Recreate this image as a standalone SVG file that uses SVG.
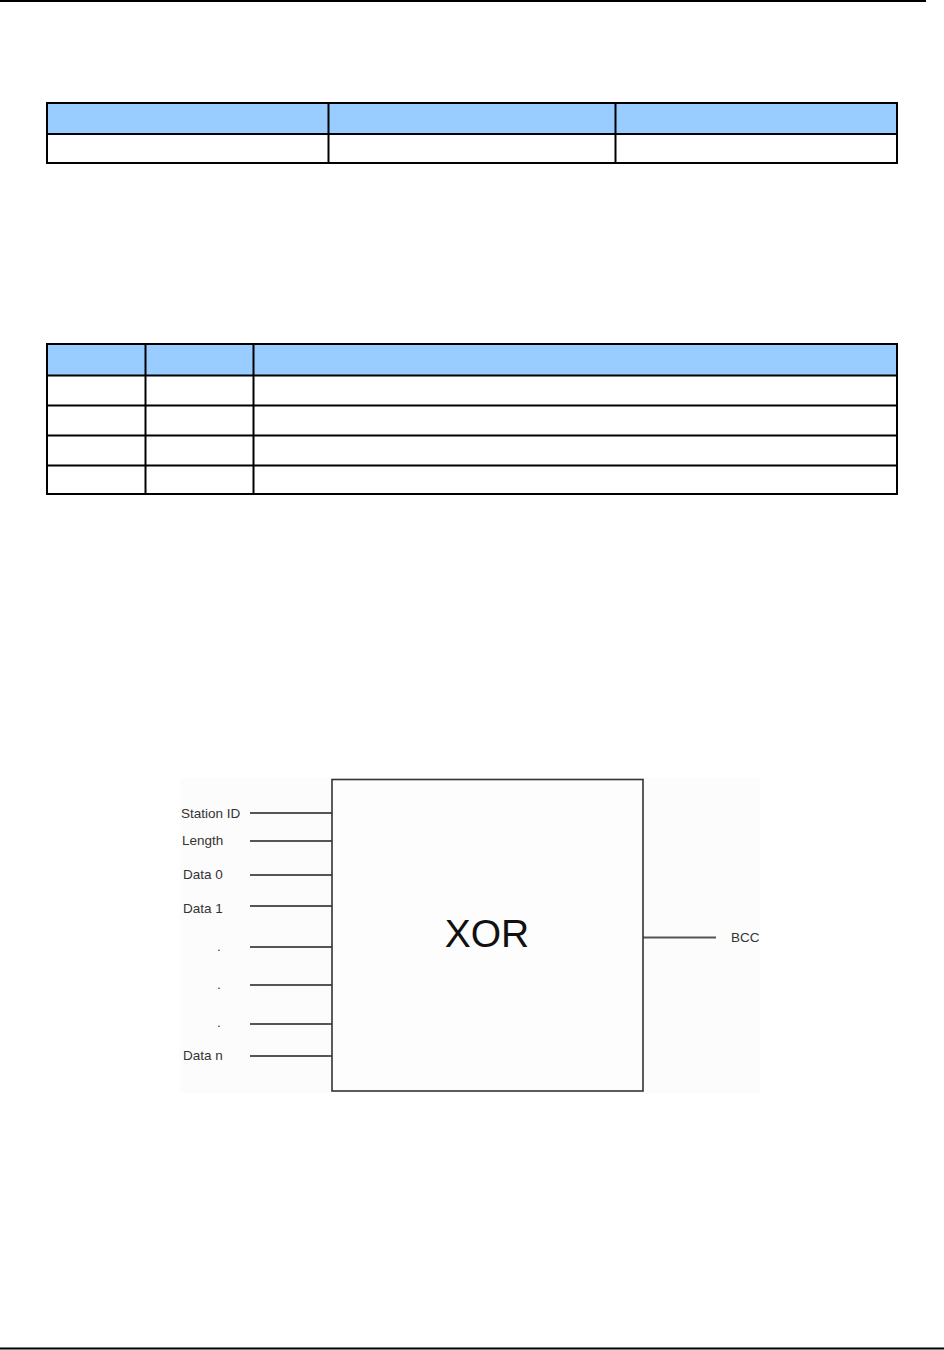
<svg xmlns="http://www.w3.org/2000/svg" width="944" height="1350" viewBox="0 0 944 1350">
<style>
.hdr{fill:#99ccff;stroke:none}
.grid{stroke:#000;stroke-width:2;fill:none}
.wire{stroke:#555;stroke-width:2}
.lbl{font-family:"Liberation Sans",Arial,sans-serif;font-size:13.5px;fill:#333}
</style>
<rect width="944" height="1350" fill="#fff"/>
<line x1="0" y1="1" x2="926" y2="1" stroke="#000" stroke-width="2"/>
<line x1="0" y1="1348.5" x2="944" y2="1348.5" stroke="#000" stroke-width="2"/>
<g id="table1">
<rect class="hdr" x="47" y="103" width="850" height="31"/>
<rect class="grid" x="47" y="103" width="850" height="60"/>
<line class="grid" x1="47" y1="134" x2="897" y2="134"/>
<line class="grid" x1="328.5" y1="103" x2="328.5" y2="163"/>
<line class="grid" x1="615.5" y1="103" x2="615.5" y2="163"/>
</g>
<g id="table2">
<rect class="hdr" x="47" y="344" width="850" height="31"/>
<rect class="grid" x="47" y="344" width="850" height="150"/>
<line class="grid" x1="47" y1="375.5" x2="897" y2="375.5"/>
<line class="grid" x1="47" y1="405.5" x2="897" y2="405.5"/>
<line class="grid" x1="47" y1="435.5" x2="897" y2="435.5"/>
<line class="grid" x1="47" y1="465.5" x2="897" y2="465.5"/>
<line class="grid" x1="145.5" y1="344" x2="145.5" y2="494"/>
<line class="grid" x1="253.5" y1="344" x2="253.5" y2="494"/>
</g>
<rect x="180" y="778" width="580" height="315" fill="#fcfcfc"/>
<g id="connectors">
<line class="wire" x1="250" y1="813" x2="332" y2="813"/>
<line class="wire" x1="250" y1="841" x2="332" y2="841"/>
<line class="wire" x1="250" y1="875" x2="332" y2="875"/>
<line class="wire" x1="250" y1="906" x2="332" y2="906"/>
<line class="wire" x1="250" y1="947" x2="332" y2="947"/>
<line class="wire" x1="250" y1="985" x2="332" y2="985"/>
<line class="wire" x1="250" y1="1024" x2="332" y2="1024"/>
<line class="wire" x1="250" y1="1056" x2="332" y2="1056"/>
<line class="wire" x1="643" y1="937.5" x2="716" y2="937.5"/>
</g>
<g id="xor">
<rect x="332" y="779.5" width="311" height="311.5" fill="#fdfdfd" stroke="#333" stroke-width="1.6"/>
<text x="487" y="947" font-family="Liberation Sans,Arial,sans-serif" font-size="39" fill="#111" text-anchor="middle">XOR</text>
</g>
<g id="inputs">
<text class="lbl" x="181" y="818">Station ID</text>
<text class="lbl" x="182" y="845">Length</text>
<text class="lbl" x="183" y="879">Data 0</text>
<text class="lbl" x="183" y="913">Data 1</text>
<text class="lbl" x="217" y="951">.</text>
<text class="lbl" x="217" y="989">.</text>
<text class="lbl" x="217" y="1027">.</text>
<text class="lbl" x="183" y="1060">Data n</text>
</g>
<g id="bcc">
<text class="lbl" x="731" y="942">BCC</text>
</g>
</svg>
